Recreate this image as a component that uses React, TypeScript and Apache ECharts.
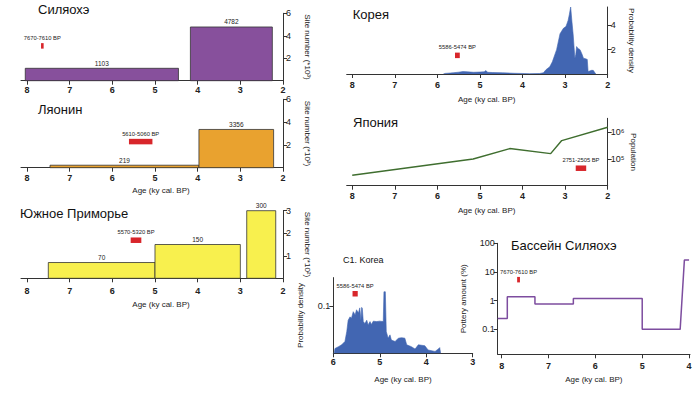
import React, { useEffect, useRef } from 'react';
import * as echarts from 'echarts';

const FONT = '"Liberation Sans", Arial, sans-serif';

// ---- Data ----
const ageTicks = [8, 7, 6, 5, 4, 3, 2];

// Xiliaohe: site numbers (*10^3)
const xiliaoheStart = [8.04, 4.17];
const xiliaoheEnd = [4.45, 2.25];
const xiliaoheSites = [1103, 4782];

// Liaoning (*10^3)
const liaoningStart = [7.46, 3.97];
const liaoningEnd = [3.97, 2.22];
const liaoningSites = [219, 3356];

// South Primorye (*10^2)
const primoryeStart = [7.5, 5.0, 2.85];
const primoryeEnd = [5.0, 3.0, 2.17];
const primoryeSites = [70, 150, 300];

// Korea probability density
const koreaAge = [5.86, 5.82, 5.7, 5.63, 5.5, 5.4, 5.3, 5.15, 5.0, 4.9, 4.86, 4.82, 4.7, 4.47, 4.2, 3.84, 3.6, 3.51, 3.45, 3.36, 3.3, 3.2, 3.12, 3.04, 2.98, 2.93, 2.9, 2.87, 2.84, 2.81, 2.79, 2.77, 2.75, 2.73, 2.7, 2.65, 2.6, 2.57, 2.52, 2.48, 2.46, 2.42, 2.38, 2.34, 2.3, 2.28];
const koreaDensity = [0, 0.05, 0.08, 0.1, 0.15, 0.2, 0.18, 0.14, 0.16, 0.18, 0.28, 0.14, 0.12, 0.1, 0.06, 0.03, 0.04, 0.1, 0.35, 0.6, 1.0, 2.0, 3.3, 3.75, 3.9, 4.4, 4.9, 5.5, 4.3, 3.2, 2.2, 1.3, 1.6, 2.25, 2.1, 2.0, 1.6, 1.3, 1.25, 1.2, 0.2, 0.25, 0.3, 0.3, 0.1, 0];

// Japan population
const japanAge = [8.0, 5.16, 4.3, 3.34, 3.08, 2.0];
const japanPop = [24500, 100000, 243000, 158000, 484000, 1540000];

// C1 Korea probability density
const c1Age = [6.0, 5.98, 5.965, 5.89, 5.82, 5.75, 5.71, 5.68, 5.64, 5.61, 5.57, 5.53, 5.5, 5.46, 5.43, 5.405, 5.39, 5.376, 5.355, 5.32, 5.28, 5.25, 5.21, 5.18, 5.14, 5.07, 5.0, 4.925, 4.91, 4.88, 4.86, 4.82, 4.78, 4.75, 4.67, 4.6, 4.53, 4.46, 4.42, 4.32, 4.24, 4.17, 4.03, 3.96, 3.81, 3.74, 3.71, 3.69];
const c1Density = [0, 0, 0.01, 0.014, 0.018, 0.025, 0.046, 0.07, 0.077, 0.074, 0.088, 0.081, 0.092, 0.085, 0.096, 0.07, 0.097, 0.095, 0.067, 0.063, 0.07, 0.06, 0.067, 0.061, 0.068, 0.067, 0.068, 0.067, 0.13, 0.13, 0.046, 0.032, 0.039, 0.028, 0.025, 0.032, 0.033, 0.032, 0.018, 0.014, 0.009, 0.018, 0.016, 0.007, 0.004, 0.009, 0.012, 0];

// Xiliaohe basin pottery amount (%)
const potteryAge = [8.085, 7.88, 7.88, 7.29, 7.29, 6.47, 6.47, 5.0, 5.0, 4.19, 4.1, 4.0];
const potteryPct = [0.24, 0.24, 1.38, 1.38, 0.77, 0.77, 1.2, 1.2, 0.1, 0.1, 26, 26];

// Dated samples (BP range, y value per panel)
const markerStartBP = [7670, 5610, 5570, 5586, 2751, 5586, 7670];
const markerEndBP = [7610, 5060, 5320, 5474, 2505, 5474, 7610];
const markerValue = [3.1, 2.29, 1.69, 1.53, 45000, 0.126, 5.4];

const titles = ['Силяохэ', 'Ляонин', 'Южное Приморье', 'Корея', 'Япония', 'C1. Korea', 'Бассейн Силяохэ'];

// ---- Styling helpers ----
const AX = { color: '#333', width: 1 };
const tickLabel = { color: '#222', fontSize: 9, fontFamily: FONT, fontWeight: 'bold' as const };
const nameStyle = { color: '#222', fontSize: 8, fontFamily: FONT };

function ageAxis(gridIndex: number, min: number, max: number, ticks: number[], margin: number, name?: string, nameGap?: number, shift = 0) {
  return {
    type: 'value', gridIndex, min, max, inverse: true, position: 'bottom',
    axisLine: { show: true, onZero: false, lineStyle: AX },
    axisTick: { show: true, length: 4, customValues: ticks, lineStyle: AX },
    axisLabel: { customValues: ticks, margin, ...tickLabel },
    splitLine: { show: false },
    name: name || '', nameLocation: 'middle', nameGap: nameGap || 20,
    nameTextStyle: { ...nameStyle, padding: [0, 0, 0, shift] },
  };
}

function valAxis(gridIndex: number, position: string, min: number, max: number, ticks: number[], name: string, nameGap: number, extra: any = {}) {
  return {
    type: 'value', gridIndex, min, max, position,
    axisLine: { show: true, onZero: false, lineStyle: AX },
    axisTick: { show: true, length: 4, customValues: ticks, lineStyle: AX },
    axisLabel: { customValues: ticks, margin: 3, ...tickLabel, fontWeight: 'normal' },
    splitLine: { show: false },
    name, nameLocation: 'middle', nameGap, nameRotate: position === 'right' ? -90 : 90,
    nameTextStyle: nameStyle,
    ...extra,
  };
}

function barSeries(idx: number, start: number[], end: number[], sites: number[], unit: number, color: string) {
  return {
    type: 'custom', xAxisIndex: idx, yAxisIndex: idx,
    data: start.map((s, i) => [s, end[i], sites[i] / unit]),
    renderItem: (params: any, api: any) => {
      const pTop = api.coord([api.value(0), api.value(2)]);
      const pBot = api.coord([api.value(1), 0]);
      const left = Math.min(pTop[0], pBot[0]);
      const w = Math.abs(pBot[0] - pTop[0]);
      return {
        type: 'group',
        children: [
          { type: 'rect', shape: { x: left, y: pTop[1], width: w, height: pBot[1] - pTop[1] }, style: { fill: color, stroke: '#333', lineWidth: 0.8 } },
          { type: 'text', style: { text: String(sites[params.dataIndex]), x: left + w / 2, y: pTop[1] - 1.5, align: 'center', verticalAlign: 'bottom', fontSize: 6.5, fontFamily: FONT, fill: '#222' } },
        ],
      };
    },
  };
}

function markerSeries(idx: number) {
  return {
    type: 'custom', xAxisIndex: idx, yAxisIndex: idx, z: 10,
    data: [[markerStartBP[idx] / 1000, markerEndBP[idx] / 1000, markerValue[idx]]],
    renderItem: (params: any, api: any) => {
      const p0 = api.coord([api.value(0), api.value(2)]);
      const p1 = api.coord([api.value(1), api.value(2)]);
      let w = Math.abs(p1[0] - p0[0]);
      const cx = (p0[0] + p1[0]) / 2;
      w = Math.max(w, 2.6);
      return {
        type: 'group',
        children: [
          { type: 'rect', shape: { x: cx - w / 2, y: p0[1] - 2.75, width: w, height: 5.5 }, style: { fill: '#d8262b' } },
          { type: 'text', style: { text: `${markerStartBP[idx]}-${markerEndBP[idx]} BP`, x: cx, y: p0[1] - 8, align: 'center', verticalAlign: 'middle', fontSize: 5.8, fontFamily: FONT, fill: '#222' } },
        ],
      };
    },
  };
}

const supers: Record<number, string> = { 4: '⁴', 5: '⁵', 6: '⁶' };

function buildOption(): any {
  const grids = [
    { left: 21, top: 13.3, width: 262, height: 67.4 },
    { left: 21, top: 99.3, width: 262, height: 68.4 },
    { left: 21, top: 210.7, width: 262, height: 67.6 },
    { left: 346.7, top: 7, width: 261, height: 67 },
    { left: 346.7, top: 118.3, width: 261, height: 67.4 },
    { left: 333.3, top: 277.6, width: 139.4, height: 75.7 },
    { left: 497.7, top: 243.3, width: 192.3, height: 111 },
  ].map((g) => ({ ...g, outerBoundsMode: 'none', containLabel: false }));

  const titlePos = [
    [38, 3, 13], [38, 103, 13], [20, 207, 13], [352.7, 8, 13], [353, 116, 13], [343, 255.5, 9], [511, 238.5, 13],
  ];

  return {
    animation: false,
    backgroundColor: '#ffffff',
    textStyle: { fontFamily: FONT },
    title: titles.map((t, i) => ({
      text: t, left: titlePos[i][0], top: titlePos[i][1], padding: 0,
      textStyle: { fontSize: titlePos[i][2], fontWeight: 'normal', color: '#111', fontFamily: FONT },
    })),
    grid: grids,
    xAxis: [
      ageAxis(0, 2, 8.14, ageTicks, 5),
      ageAxis(1, 2, 8.14, ageTicks, 6, 'Age (ky cal. BP)', 19, 18),
      ageAxis(2, 2, 8.14, ageTicks, 8, 'Age (ky cal. BP)', 22, 18),
      ageAxis(3, 2, 8.13, ageTicks, 6, 'Age (ky cal. BP)', 21, 19),
      ageAxis(4, 2, 8.13, ageTicks, 6, 'Age (ky cal. BP)', 21, 19),
      ageAxis(5, 3, 6, [6, 5, 4, 3], 4, 'Age (ky cal. BP)', 22),
      ageAxis(6, 3.98, 8.085, [8, 7, 6, 5, 4], 7, 'Age (ky cal. BP)', 21),
    ],
    yAxis: [
      valAxis(0, 'right', 0, 6, [2, 4, 6], 'Site number (*10³)', 20),
      valAxis(1, 'right', 0, 6, [2, 4, 6], 'Site number (*10³)', 20),
      valAxis(2, 'right', 0, 3, [1, 2, 3], 'Site number (*10²)', 20),
      valAxis(3, 'right', 0, 5.5, [2, 4], 'Probability density', 20),
      valAxis(4, 'right', 10000, 3300000, [100000, 1000000], 'Population', 22, {
        type: 'log', logBase: 10,
        axisLabel: {
          customValues: [100000, 1000000], margin: 3, ...tickLabel, fontWeight: 'normal',
          formatter: (v: number) => '10' + (supers[Math.round(Math.log10(v))] || ''),
        },
      }),
      valAxis(5, 'left', 0, 0.16, [0.1], 'Probability density', 29),
      valAxis(6, 'left', 0.0135, 100, [0.1, 1, 10, 100], 'Pottery amount (%)', 30, {
        type: 'log', logBase: 10,
        axisLabel: {
          customValues: [0.1, 1, 10, 100], margin: 3, ...tickLabel, fontWeight: 'normal',
          formatter: (v: number) => String(10 ** Math.round(Math.log10(v))),
        },
      }),
    ],
    series: [
      barSeries(0, xiliaoheStart, xiliaoheEnd, xiliaoheSites, 1000, '#87509c'),
      barSeries(1, liaoningStart, liaoningEnd, liaoningSites, 1000, '#e9a22f'),
      barSeries(2, primoryeStart, primoryeEnd, primoryeSites, 100, '#f8f04e'),
      {
        type: 'line', xAxisIndex: 3, yAxisIndex: 3, symbol: 'none',
        data: koreaAge.map((a, i) => [a, koreaDensity[i]]),
        lineStyle: { color: '#4266b2', width: 0.6 },
        areaStyle: { color: '#4266b2', opacity: 1 },
      },
      {
        type: 'line', xAxisIndex: 4, yAxisIndex: 4, symbol: 'none',
        data: japanAge.map((a, i) => [a, japanPop[i]]),
        lineStyle: { color: '#3f6e2f', width: 1.5 },
      },
      {
        type: 'line', xAxisIndex: 5, yAxisIndex: 5, symbol: 'none',
        data: c1Age.map((a, i) => [a, c1Density[i]]),
        lineStyle: { color: '#4266b2', width: 0.6 },
        areaStyle: { color: '#4266b2', opacity: 1 },
      },
      {
        type: 'line', xAxisIndex: 6, yAxisIndex: 6, symbol: 'none',
        data: potteryAge.map((a, i) => [a, potteryPct[i]]),
        lineStyle: { color: '#7d4d9f', width: 1.5 },
      },
      ...[0, 1, 2, 3, 4, 5, 6].map((i) => markerSeries(i)),
    ],
  };
}

export default function App() {
  const ref = useRef<HTMLDivElement>(null);
  useEffect(() => {
    if (!ref.current) return;
    const chart = echarts.init(ref.current, null, { renderer: 'svg' });
    chart.setOption(buildOption());
    return () => chart.dispose();
  }, []);
  return (
    <div
      ref={ref}
      style={{ position: 'fixed', left: 0, top: 0, width: 700, height: 394, background: '#fff' }}
    />
  );
}
